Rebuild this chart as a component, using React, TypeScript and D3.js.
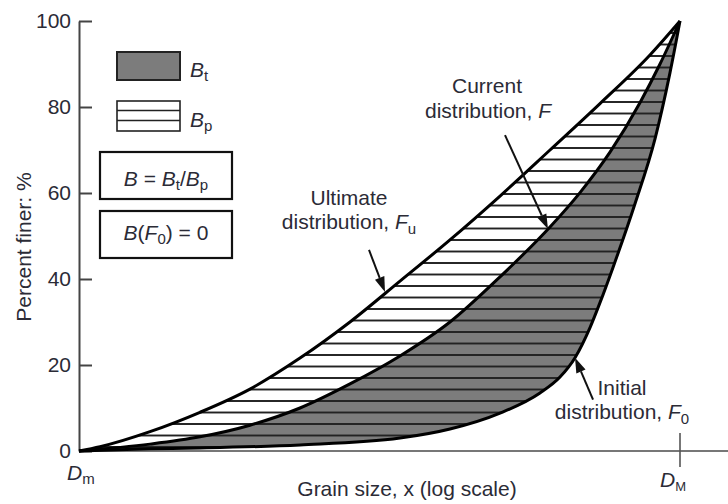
import React, { useEffect, useRef } from "react";
import * as d3 from "d3";

const W = 728;
const H = 504;
const Dm = 1;
const DM = 100;
const yTicks = [0, 20, 40, 60, 80, 100];

// grain size (relative units, log axis) vs percent finer
const ultimateSize = [1, 1.175, 1.723, 2.527, 3.707, 5.438, 7.976, 11.7, 17.16, 25.18, 36.93, 54.17, 79.46, 100];
const ultimatePct = [0, 1.0, 4.5, 9.0, 14.4, 21.6, 30.0, 39.5, 49.1, 59.3, 70.0, 80.8, 92.1, 100];
const currentSize = [1, 1.723, 2.527, 3.707, 5.438, 7.976, 11.7, 17.16, 25.18, 36.93, 46.48, 58.49, 73.58, 85.8, 100];
const currentPct = [0, 1.6, 3.3, 6.0, 10.0, 15.6, 22.1, 30.0, 40.5, 52.1, 60.1, 69.5, 81.0, 90.0, 100];
const initialSize = [1, 1.723, 2.527, 5.438, 11.7, 17.16, 25.18, 34.2, 39.87, 44.74, 50.18, 54.17, 59.85, 70.83, 82.57, 92.63, 100];
const initialPct = [0, 0.5, 0.7, 1.4, 3.0, 5.1, 8.8, 13.5, 17.2, 21.7, 28.7, 34.5, 42.7, 57.5, 72.6, 88.0, 100];

const FONT = "'Liberation Sans', Arial, Helvetica, sans-serif";
const INK = "#2b2b36";

const zip = (a: number[], b: number[]) => a.map((v, i) => [v, b[i]] as [number, number]);

const YAxis = ({ scale }: { scale: d3.ScaleLinear<number, number> }) => {
  const ref = useRef<SVGGElement>(null);
  useEffect(() => {
    const g = d3.select(ref.current!);
    g.call(d3.axisLeft(scale).tickValues(yTicks).tickSize(-13).tickSizeOuter(0).tickPadding(8).tickFormat(d3.format("d")));
    g.attr("font-family", FONT).attr("font-size", 21);
    g.select(".domain").attr("stroke", "#444").attr("stroke-width", 2);
    g.selectAll(".tick line").attr("stroke", "#444").attr("stroke-width", 2);
    g.selectAll(".tick text").attr("fill", INK);
  }, [scale]);
  return <g ref={ref} transform="translate(79,0)" />;
};

const Arrow = ({ x1, y1, x2, y2 }: { x1: number; y1: number; x2: number; y2: number }) => {
  const a = Math.atan2(y2 - y1, x2 - x1);
  const len = 15;
  const hw = 5;
  const bx = x2 - len * Math.cos(a);
  const by = y2 - len * Math.sin(a);
  const px = -Math.sin(a) * hw;
  const py = Math.cos(a) * hw;
  return (
    <g>
      <line x1={x1} y1={y1} x2={bx} y2={by} stroke="#111" strokeWidth={2} />
      <polygon points={`${x2},${y2} ${bx + px},${by + py} ${bx - px},${by - py}`} fill="#111" />
    </g>
  );
};

export default function App() {
  const x = d3.scaleLog().domain([Dm, DM]).range([79, 680]);
  const y = d3.scaleLinear().domain([0, 100]).range([451, 21]);

  const ultimate = zip(ultimateSize, ultimatePct);
  const current = zip(currentSize, currentPct);
  const initial = zip(initialSize, initialPct);

  const line = d3
    .line<[number, number]>()
    .x((d) => x(d[0]))
    .y((d) => y(d[1]))
    .curve(d3.curveMonotoneX);

  const band = (upper: [number, number][], lower: [number, number][]) =>
    (line(upper) as string) + "L" + (line(lower.slice().reverse()) as string).slice(1) + "Z";

  // arrow tips sit on the curves
  const arrows = [
    { s: 10.43, p: 37.0, dx: -16, dy: -42 },
    { s: 36.37, p: 51.6, dx: -43, dy: -94 },
    { s: 44.74, p: 21.7, dx: 18, dy: 42 },
  ];

  return (
    <svg width={W} height={H} style={{ position: "absolute", left: 0, top: 0, background: "#fff" }} fontFamily={FONT}>
      <defs>
        <pattern id="hatch" patternUnits="userSpaceOnUse" width={W} height={11.5} y={441.25}>
          <line x1={0} x2={W} y1={5.75} y2={5.75} stroke="#222" strokeWidth={1.7} />
        </pattern>
      </defs>

      <path d={band(ultimate, initial)} fill="#fff" />
      <path d={band(current, initial)} fill="#7c7c7c" />
      <path d={band(ultimate, initial)} fill="url(#hatch)" />

      {/* x axis */}
      <line x1={x(Dm)} x2={W} y1={y(0)} y2={y(0)} stroke="#777" strokeWidth={2.2} />
      <line x1={x(DM)} x2={x(DM)} y1={y(0) - 18} y2={y(0) + 16} stroke="#555" strokeWidth={1.6} />
      <YAxis scale={y} />

      {[ultimate, current, initial].map((c, i) => (
        <path key={i} d={line(c) as string} fill="none" stroke="#000" strokeWidth={3} strokeLinejoin="round" />
      ))}

      {arrows.map((a, i) => (
        <Arrow key={i} x1={x(a.s) + a.dx} y1={y(a.p) + a.dy} x2={x(a.s)} y2={y(a.p)} />
      ))}

      <g fill={INK} fontSize={21}>
        <text x={487} y={93} textAnchor="middle">Current</text>
        <text x={488} y={118} textAnchor="middle">
          distribution, <tspan fontStyle="italic">F</tspan>
        </text>
        <text x={349} y={205} textAnchor="middle">Ultimate</text>
        <text x={349} y={229} textAnchor="middle">
          distribution, <tspan fontStyle="italic">F</tspan>
          <tspan fontSize={15} dy={5}>u</tspan>
        </text>
        <text x={622} y={395} textAnchor="middle">Initial</text>
        <text x={622} y={419} textAnchor="middle">
          distribution, <tspan fontStyle="italic">F</tspan>
          <tspan fontSize={15} dy={5}>0</tspan>
        </text>

        <text x={67} y={480}>
          <tspan fontStyle="italic">D</tspan>
          <tspan fontSize={15} dy={4}>m</tspan>
        </text>
        <text x={660} y={487}>
          <tspan fontStyle="italic">D</tspan>
          <tspan fontSize={13} dy={4}>M</tspan>
        </text>

        <text x={407} y={496} textAnchor="middle">Grain size, x (log scale)</text>
        <text transform="translate(31,247) rotate(-90)" textAnchor="middle" fontSize={21}>
          Percent finer: %
        </text>
      </g>

      {/* legend */}
      <rect x={117} y={52} width={63} height={28} fill="#7c7c7c" stroke="#222" strokeWidth={2} />
      <rect x={117} y={101} width={63} height={30} fill="#fff" stroke="#222" strokeWidth={1.6} />
      <line x1={117} x2={180} y1={110.5} y2={110.5} stroke="#222" strokeWidth={1.6} />
      <line x1={117} x2={180} y1={120.5} y2={120.5} stroke="#222" strokeWidth={1.6} />
      <rect x={100} y={152} width={132} height={47} fill="#fff" stroke="#111" strokeWidth={2.2} />
      <rect x={100} y={211} width={132} height={47} fill="#fff" stroke="#111" strokeWidth={2.2} />

      <g fill={INK} fontSize={21}>
        <text x={190} y={77}>
          <tspan fontStyle="italic">B</tspan>
          <tspan fontSize={15} dy={4}>t</tspan>
        </text>
        <text x={190} y={127}>
          <tspan fontStyle="italic">B</tspan>
          <tspan fontSize={15} dy={4}>p</tspan>
        </text>
        <text x={166} y={186} textAnchor="middle">
          <tspan fontStyle="italic">B</tspan> = <tspan fontStyle="italic">B</tspan>
          <tspan fontSize={15} dy={4}>t</tspan>
          <tspan dy={-4}>/</tspan>
          <tspan fontStyle="italic">B</tspan>
          <tspan fontSize={15} dy={4}>p</tspan>
        </text>
        <text x={166} y={240} textAnchor="middle">
          <tspan fontStyle="italic">B</tspan>(<tspan fontStyle="italic">F</tspan>
          <tspan fontSize={15} dy={4}>0</tspan>
          <tspan dy={-4}>) = 0</tspan>
        </text>
      </g>
    </svg>
  );
}
